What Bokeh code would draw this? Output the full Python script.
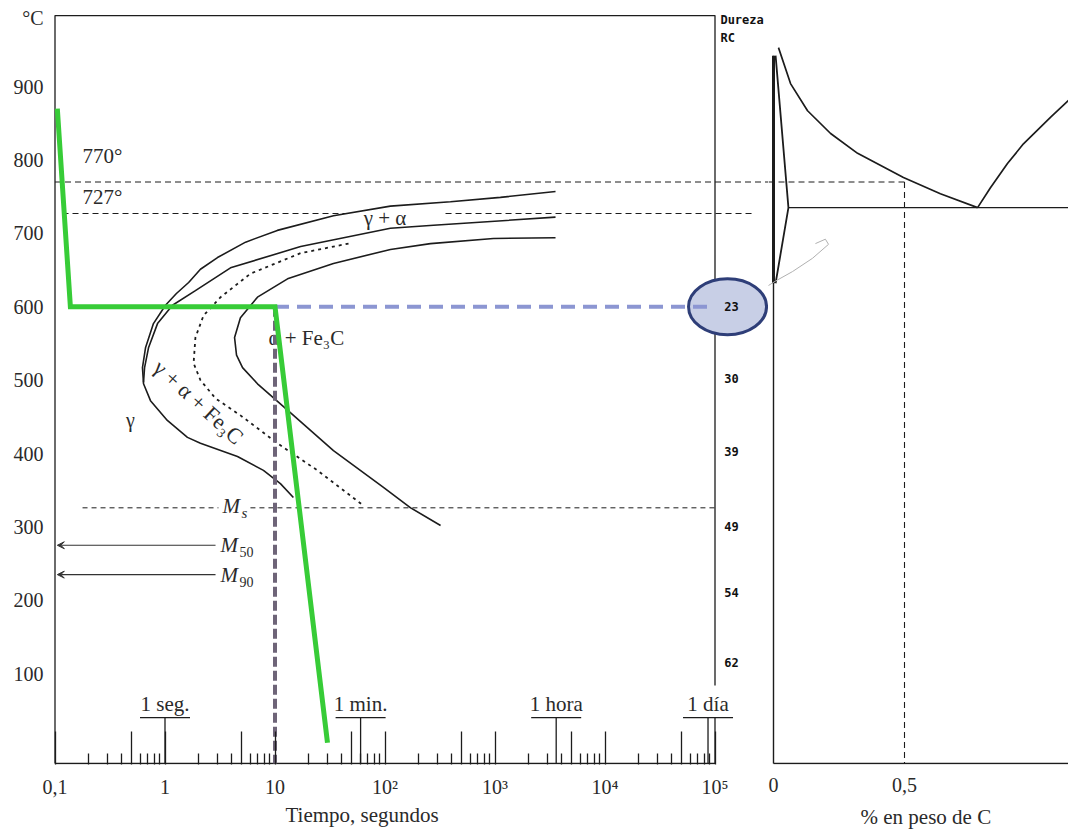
import math
from bokeh.plotting import figure
from bokeh.layouts import row
from bokeh.models import Range1d, FixedTicker, Arrow, VeeHead, Title
from bokeh.core.properties import value
from bokeh.embed import file_html
from bokeh.resources import INLINE

# ---------------- data ----------------
# temperature axis (°C) and time axis (s, log)
temp_ticks = [100, 200, 300, 400, 500, 600, 700, 800, 900]
temp_unit_pos = 993
time_major = [0.1, 0.5, 1, 5, 10, 50, 100, 500, 1000, 5000, 10000, 50000, 100000]
time_labels = {0.1: "0,1", 1: "1", 10: "10", 100: "10²", 1000: "10³",
               10000: "10⁴", 100000: "10⁵"}
time_minor = [m * 10.0 ** e for e in range(-1, 5) for m in (2, 3, 4, 6, 7, 8, 9)]

span_names = ["1 seg.", "1 min.", "1 hora", "1 día"]
span_times = [1, 60, 3600, 86400]
long_ticks = [1, 60, 3600, 86400, 100000]

# transformation curves (time s, temperature °C)
start_t = [3550, 1120, 394, 112, 34.0, 10.5, 5.40, 3.00, 2.10, 1.64, 1.27, 1.01, 0.785,
           0.665, 0.624, 0.638, 0.738, 1.05, 1.60, 2.10, 4.56, 7.85, 11.2, 14.7]
start_T = [757, 749, 743, 737, 724, 704, 688, 667, 651, 633, 618, 602, 577,
           544, 517, 495, 472, 445, 422, 414, 396, 377, 359, 340]
second_t = [3550, 276, 112, 17.1, 3.94, 1.89, 1.17, 0.855, 0.708, 0.652, 0.638]
second_T = [722, 711, 707, 682, 653, 622, 602, 577, 544, 517, 497]
dotted_t = [46.6, 17.1, 5.98, 3.20, 2.24, 1.89, 1.82, 2.10, 2.88, 4.85, 10.5, 24.3, 63.8]
dotted_T = [686, 673, 645, 613, 588, 558, 523, 500, 475, 452, 414, 377, 329]
finish_t = [3550, 968, 259, 112, 34.0, 13.0, 6.93, 4.85, 4.29, 4.47, 5.07, 6.93,
            13.0, 34.0, 96.8, 171, 320]
finish_T = [694, 693, 686, 678, 659, 638, 613, 585, 558, 534, 517, 495,
            459, 404, 354, 326, 302]

# critical temperatures
a3_temp = 770
a1_temp = 727
ms_temp = 326
m50_temp = 275
m90_temp = 235

# heat-treatment path
path_t = [0.105, 0.138, 10, 30]
path_T = [870, 600, 600, 6]
hold_T = 600
hold_end = 10

# Rockwell C hardness column
hardness = ["23", "30", "39", "49", "54", "62"]
hardness_T = [600, 502, 403, 300, 210, 115]

# Fe-C diagram (wt % C, °C)
a3_c = [0.019, 0.065, 0.130, 0.218, 0.321, 0.496, 0.637, 0.779]
a3_T = [953, 904, 867, 836, 809, 776, 754, 735]
acm_c = [0.779, 0.828, 0.893, 0.954, 1.057, 1.126]
acm_T = [735, 762, 795, 822, 858, 881]
alpha_c = [0.008, 0.057, 0.008]
alpha_T = [942, 735, 632]
eutectoid_T = 735
steel_c = 0.5
arc_c = [0.160, 0.198, 0.210, 0.149, 0.073, 0.008, -0.050]
arc_T = [686, 692, 685, 666, 648, 635, 622]

# ---------------- styling ----------------
INK = "#2a2a2a"
LINE = "#1c1c1c"
SERIF = "Liberation Serif"
DEC = 110.0  # pixels per decade on the time axis

x0 = 10 ** (-1 - 1.5 / DEC)
x1 = 10 ** (math.log10(x0) + 715 / DEC)
y0, y1 = -23.7, 1017.2
T_base = -22.3
T_top = 996.7


def txt(fig, x, y, s, size="20px", align="left", baseline="middle", style="normal",
        angle=0.0, color=INK, font=SERIF, **kw):
    fig.text(x=[x], y=[y], text=[s], text_font=value(font), text_font_size=size,
             text_align=align, text_baseline=baseline, text_font_style=style,
             angle=angle, text_color=color, **kw)


def caption(text, offset, standoff=0):
    return Title(text=text, align="left", offset=offset, text_font=SERIF,
                 text_font_size="21px", text_font_style="normal", text_color=INK,
                 standoff=standoff)


# ================= TTT diagram =================
p = figure(x_axis_type="log", x_range=Range1d(x0, x1), y_range=Range1d(y0, y1),
           frame_width=715, frame_height=764, min_border_left=53, min_border_right=0,
           min_border_top=0, min_border_bottom=67, toolbar_location=None,
           output_backend="svg", title=None)
p.outline_line_color = None
p.grid.visible = False
p.background_fill_color = "white"
p.border_fill_color = "white"

xa = p.xaxis[0]
xa.ticker = FixedTicker(ticks=time_major, minor_ticks=time_minor)
xa.major_label_overrides = {t: time_labels.get(t, "") for t in time_major}
xa.axis_line_color = None
xa.major_tick_in = 33
xa.major_tick_out = 0
xa.minor_tick_in = 11
xa.minor_tick_out = 0
xa.major_tick_line_color = LINE
xa.minor_tick_line_color = LINE
xa.major_tick_line_width = 1.3
xa.minor_tick_line_width = 1.3
xa.major_label_standoff = 11
xa.major_label_text_font = SERIF
xa.major_label_text_font_size = "20px"
xa.major_label_text_color = INK

ya = p.yaxis[0]
ya.ticker = FixedTicker(ticks=temp_ticks + [temp_unit_pos])
ya.major_label_overrides = {temp_unit_pos: "°C"}
ya.axis_line_color = None
ya.major_tick_in = 0
ya.major_tick_out = 0
ya.minor_tick_line_color = None
ya.major_label_standoff = 10
ya.major_label_text_font = SERIF
ya.major_label_text_font_size = "20px"
ya.major_label_text_color = INK

p.add_layout(caption("Tiempo, segundos", 232), "below")

# frame
p.line([0.1, 0.1, 1e5, 1e5], [T_base, T_top, T_top, 84], color=LINE, line_width=1.3)
p.line([0.1, 1e5], [T_base, T_base], color=LINE, line_width=1.4)

# long ticks with time bars
for t in long_ticks:
    p.line([t, t], [T_base, 40.3], color=LINE, line_width=1.3)
for t, name in zip(span_times, span_names):
    p.line([t * 10 ** (-25 / DEC), t * 10 ** (25 / DEC)], [40.3, 40.3], color=LINE, line_width=1.3)
    txt(p, t, 59.4, name, align="center", size="21px")

# critical temperature lines
p.line([0.1, x1], [a3_temp, a3_temp], color=LINE, line_width=1.1, line_dash="6 4")
p.line([0.117, 48.5], [a1_temp, a1_temp], color=LINE, line_width=1.1, line_dash="6 4")
p.line([355, 2.33e5], [a1_temp, a1_temp], color=LINE, line_width=1.1, line_dash="6 4")
p.line([0.178, 3.06], [ms_temp, ms_temp], color=LINE, line_width=1.0, line_dash="5 4")
p.line([5.98, 1e5], [ms_temp, ms_temp], color=LINE, line_width=1.0, line_dash="5 4")
txt(p, 0.178, 806, "770°", size="21px")
txt(p, 0.178, 749, "727°", size="21px")

# transformation curves
p.line(start_t, start_T, color=LINE, line_width=1.6)
p.line(second_t, second_T, color=LINE, line_width=1.6)
p.line(dotted_t, dotted_T, color=LINE, line_width=1.8, line_dash="3 4")
p.line(finish_t, finish_T, color=LINE, line_width=1.6)

# martensite markers
for T_m, sub in [(m50_temp, "50"), (m90_temp, "90")]:
    p.add_layout(Arrow(end=VeeHead(size=7, fill_color="#333333", line_color="#333333"),
                       x_start=2.88, y_start=T_m, x_end=0.105, y_end=T_m,
                       line_color="#333333", line_width=1.2))
    txt(p, 3.2, T_m, "M", style="italic", size="21px")
    txt(p, 3.2, T_m, sub, size="14px", x_offset=19, y_offset=7)
txt(p, 3.33, ms_temp + 3, "M", style="italic", size="21px")
txt(p, 3.33, ms_temp + 3, "s", style="italic", size="15px", x_offset=19, y_offset=7)

# phase field labels
txt(p, 100, 721, "γ + α", size="21px", align="center")
txt(p, 8.73, 557, "α + Fe₃C", size="21px")
txt(p, 2.02, 470, "γ + α + Fe₃C", align="center", angle=-0.74, size="22px")
txt(p, 0.485, 445, "γ", align="center")

# highlighted hardness and hold line
p.ellipse(x=[1.3e5], y=[hold_T], width=78, height=56, width_units="screen",
          height_units="screen", fill_color="#c8cfe6", line_color="#2e3e78", line_width=3)
p.line([hold_end, 1e5], [hold_T, hold_T], color="#8c96d2", line_width=4, line_dash="14 8")
p.line([hold_end, hold_end], [hold_T, T_base], color="#6e6478", line_width=4, line_dash="10 4")

# cooling path
p.line(path_t, path_T, color="#37cc37", line_width=5, line_join="miter")

# hardness column
p.text(x=[1.41e5] * len(hardness), y=hardness_T, text=hardness,
       text_font=value("DejaVu Sans Mono"), text_font_style="bold", text_font_size="12px",
       text_align="center", text_baseline="middle", text_color="#111111")
txt(p, 1.12e5, 999.5, "Dureza", font="DejaVu Sans Mono", style="bold", size="12px",
    baseline="top", color="#111111")
txt(p, 1.12e5, 976.3, "RC", font="DejaVu Sans Mono", style="bold", size="12px",
    baseline="top", color="#111111")

# ================= Fe-C diagram =================
c0 = -5 / 262.0
c1 = c0 + 300 / 262.0
q = figure(x_range=Range1d(c0, c1), y_range=Range1d(y0, y1), y_axis_location=None,
           frame_width=300, frame_height=764, min_border_left=0, min_border_right=0,
           min_border_top=0, min_border_bottom=67, toolbar_location=None,
           output_backend="svg", title=None)
q.outline_line_color = None
q.grid.visible = False
q.background_fill_color = "white"
q.border_fill_color = "white"

qa = q.xaxis[0]
qa.ticker = FixedTicker(ticks=[0, 0.5])
qa.major_label_overrides = {0: "0", 0.5: "0,5"}
qa.axis_line_color = None
qa.major_tick_in = 0
qa.major_tick_out = 0
qa.minor_tick_line_color = None
qa.major_label_standoff = 13
qa.major_label_text_font = SERIF
qa.major_label_text_font_size = "20px"
qa.major_label_text_color = INK

q.add_layout(caption("% en peso de C", 92, standoff=16), "below")

q.line([0, c1], [T_base, T_base], color=LINE, line_width=1.4)
q.line([0, 0], [942, T_base], color=LINE, line_width=1.4)
q.line([0, 0], [942, 632], color=LINE, line_width=3)
q.line(alpha_c, alpha_T, color=LINE, line_width=1.8)
q.line([alpha_c[1], c1], [eutectoid_T, eutectoid_T], color=LINE, line_width=1.4)
q.line(a3_c, a3_T, color=LINE, line_width=1.7)
q.line(acm_c, acm_T, color=LINE, line_width=1.7)
q.line([c0, steel_c], [a3_temp, a3_temp], color=LINE, line_width=1.1, line_dash="6 4")
q.line([steel_c, steel_c], [a3_temp, T_base], color=LINE, line_width=1.1, line_dash="6 4")
q.line(arc_c, arc_T, color="#b0b0b0", line_width=1)

layout = row(p, q)
open("out.html", "w").write(file_html(layout, INLINE))
